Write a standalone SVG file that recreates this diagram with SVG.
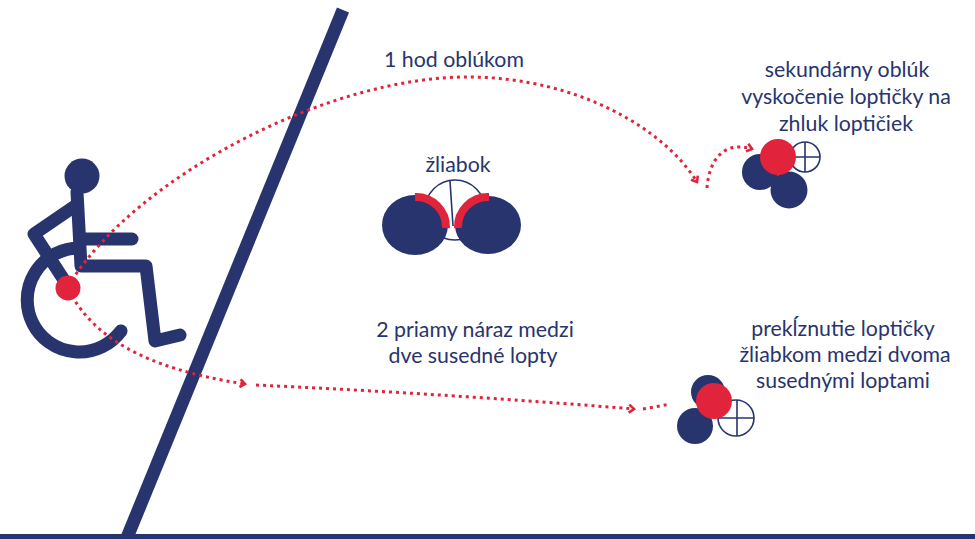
<svg xmlns="http://www.w3.org/2000/svg" width="975" height="539" viewBox="0 0 975 539">
  <style>
    .navy { fill: #27346e; }
    .red { fill: #e2233c; }
    .limb { fill: none; stroke: #27346e; stroke-width: 13; stroke-linecap: round; stroke-linejoin: round; }
    .path { fill: none; stroke: #e2233c; stroke-width: 3; stroke-dasharray: 3 4; }
    .spot { fill: #ffffff; stroke: #27346e; stroke-width: 1.6; }
    .seam { fill: none; stroke: #27346e; stroke-width: 1.6; }
    .label { font-family: Lato, "Open Sans", "Liberation Sans", sans-serif; font-size: 21.3px; fill: #27346e; text-anchor: middle; }
  </style>
  <defs>
    <marker id="chevron" viewBox="0 0 10 10" refX="7" refY="5" markerWidth="10" markerHeight="10" markerUnits="userSpaceOnUse" orient="auto">
      <path d="M2 1 L7 5 L2 9" fill="none" stroke="#e2233c" stroke-width="2.6"/>
    </marker>
  </defs>

  <rect width="975" height="539" fill="#ffffff"/>

  <!-- court boundary lines -->
  <g id="court">
    <line x1="343" y1="10" x2="124" y2="545" stroke="#27346e" stroke-width="13"/>
    <rect x="0" y="534" width="975" height="5" class="navy"/>
  </g>

  <!-- player in wheelchair -->
  <g id="player">
    <path class="limb" d="M79 248 A52 52 0 1 0 121 331"/>
    <circle class="navy" cx="82" cy="176" r="17.5"/>
    <path class="limb" d="M77 192 L81 266 L146 266 L155 341 L180 335"/>
    <path class="limb" d="M80 239 L132 239"/>
    <path class="limb" d="M75 206 L34 234 L64 280"/>
    <circle class="red" cx="68" cy="288" r="12.5"/>
  </g>

  <!-- ball trajectories -->
  <g id="connectors">
    <path class="path" d="M72 280 C140 175 330 76 470 77 C580 78 665 130 697 182" marker-end="url(#chevron)"/>
    <path class="path" d="M707 188 C709 162 722 140 752 149" marker-end="url(#chevron)"/>
    <path class="path" d="M72 296 C95 335 140 368 245 384" marker-end="url(#chevron)"/>
    <path class="path" d="M256 385 Q450 394 634 409" marker-end="url(#chevron)"/>
    <path class="path" d="M643 409 L670 404"/>
  </g>

  <!-- gutter between two neighbouring balls -->
  <g id="gutter">
    <circle class="spot" cx="455" cy="210" r="30"/>
    <path class="seam" d="M450 181 L453 226 M423 200 L446 224 M487 200 L460 224"/>
    <ellipse class="navy" cx="415" cy="225" rx="33" ry="30"/>
    <ellipse class="navy" cx="488" cy="225" rx="33" ry="29"/>
    <path d="M415 197 A30 30 0 0 1 446 228" fill="none" stroke="#e2233c" stroke-width="8"/>
    <path d="M489 197 A30 30 0 0 0 458 228" fill="none" stroke="#e2233c" stroke-width="8"/>
  </g>

  <!-- cluster hit by the secondary arc -->
  <g id="cluster-top">
    <circle class="spot" cx="805" cy="157" r="15"/>
    <path class="seam" d="M790 157 L820 157 M805 142 L805 172"/>
    <circle class="navy" cx="760" cy="172" r="18"/>
    <circle class="navy" cx="789" cy="190" r="18.5"/>
    <circle class="red" cx="778" cy="157" r="18"/>
  </g>

  <!-- cluster reached by the straight shot -->
  <g id="cluster-bottom">
    <circle class="spot" cx="736" cy="418" r="18"/>
    <path class="seam" d="M718 418 L754 418 M737 400 L737 436"/>
    <circle class="navy" cx="708" cy="392" r="17"/>
    <circle class="navy" cx="695" cy="426" r="18"/>
    <circle class="red" cx="714" cy="401" r="18"/>
  </g>

  <!-- labels -->
  <g id="label-arc">
    <text class="label" x="454" y="67">1 hod oblúkom</text>
  </g>
  <g id="label-gutter">
    <text class="label" x="458" y="172">žliabok</text>
  </g>
  <g id="label-secondary">
    <text class="label" x="847" y="77">sekundárny oblúk</text>
    <text class="label" x="846" y="104">vyskočenie loptičky na</text>
    <text class="label" x="846" y="131">zhluk loptičiek</text>
  </g>
  <g id="label-straight">
    <text class="label" x="475" y="337">2 priamy náraz medzi</text>
    <text class="label" x="473" y="363">dve susedné lopty</text>
  </g>
  <g id="label-slide">
    <text class="label" x="843" y="336">prekĺznutie loptičky</text>
    <text class="label" x="845" y="362">žliabkom medzi dvoma</text>
    <text class="label" x="843" y="388">susednými loptami</text>
  </g>
</svg>
